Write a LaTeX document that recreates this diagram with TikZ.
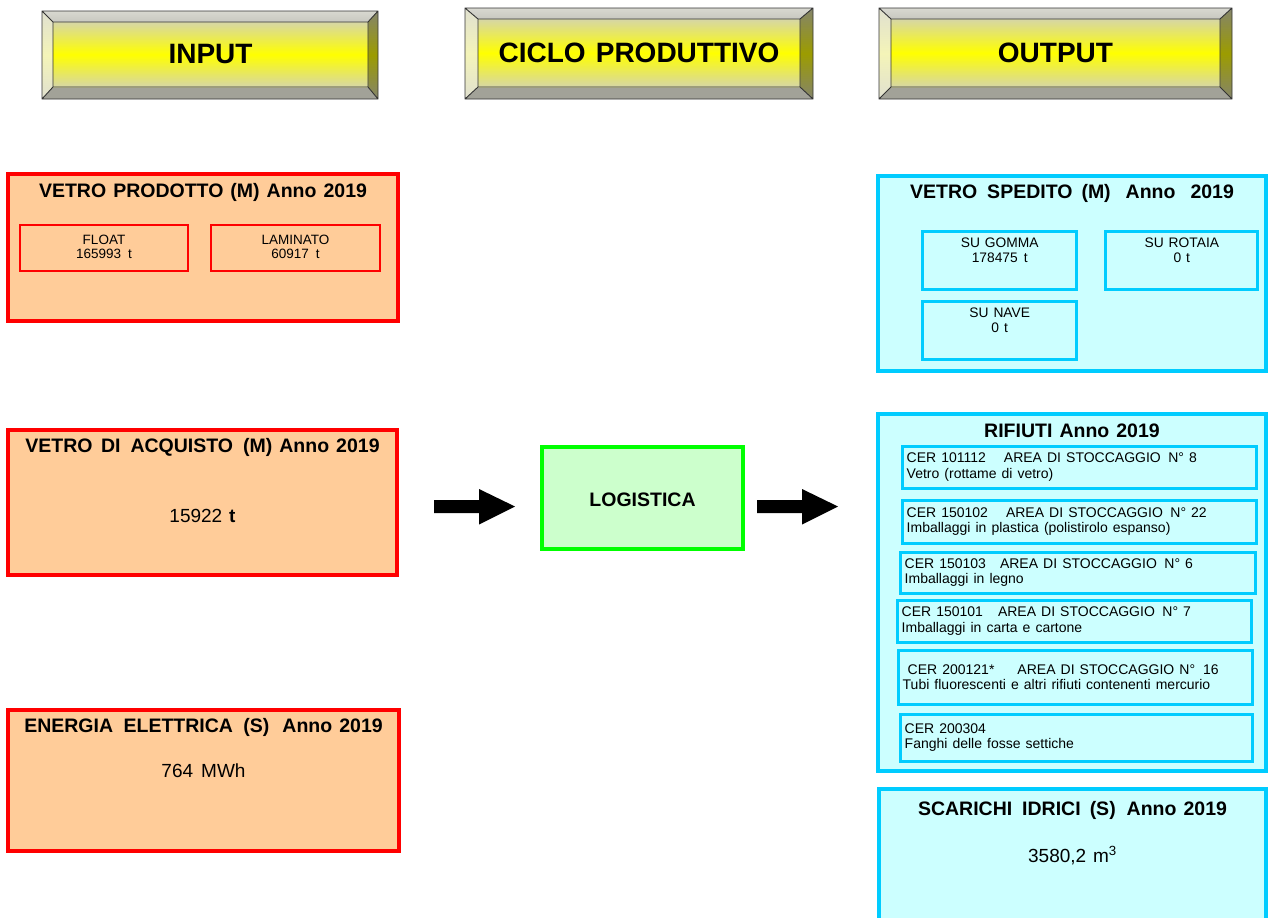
\documentclass[tikz,border=0pt]{standalone}
\usepackage{fontspec}
\setmainfont{Liberation Sans}[WordSpace=1.3]
\usetikzlibrary{calc}

\definecolor{peach}{HTML}{FFCC99}
\definecolor{inred}{HTML}{FF0000}
\definecolor{outcyan}{HTML}{00CCFF}
\definecolor{outfill}{HTML}{CCFFFF}
\definecolor{loggreen}{HTML}{00FF00}
\definecolor{logfill}{HTML}{CCFFCC}
\definecolor{bevtopA}{HTML}{D8D8D0}
\definecolor{bevtopB}{HTML}{C8C8C0}
\definecolor{bevbot}{HTML}{A2A298}
\definecolor{bevL1}{HTML}{E0E0D0}
\definecolor{bevL2}{HTML}{F4F4B8}
\definecolor{bevR1}{HTML}{84846C}
\definecolor{bevR2}{HTML}{9C9C00}
\definecolor{faceA}{HTML}{D6D6A6}

\newcommand\pxfont[2]{\fontsize{#1}{#2}\selectfont}

% bevelled header button: #1 = prefix of its four corner coordinates, #2 = caption
\newcommand\headbtn[2]{%
  \shade[top color=bevtopA, bottom color=bevtopB]
    (#1o1) -- (#1o1 -| #1o2) -- (#1i1 -| #1i2) -- (#1i1) -- cycle;
  \shade[top color=bevR1, bottom color=bevR1, middle color=bevR2]
    (#1o1 -| #1o2) -- (#1o2) -- (#1i2) -- (#1i1 -| #1i2) -- cycle;
  \fill[bevbot] (#1o2) -- (#1o2 -| #1o1) -- (#1i2 -| #1i1) -- (#1i2) -- cycle;
  \shade[top color=bevL1, bottom color=bevL1, middle color=bevL2]
    (#1o2 -| #1o1) -- (#1o1) -- (#1i1) -- (#1i2 -| #1i1) -- cycle;
  \shade[top color=faceA, bottom color=faceA, middle color=yellow]
    (#1i1) rectangle (#1i2);
  \draw[btnedge] (#1o1) rectangle (#1o2) (#1i1) rectangle (#1i2)
    (#1o1) -- (#1i1) (#1o2) -- (#1i2)
    (#1o1 -| #1o2) -- (#1i1 -| #1i2) (#1o2 -| #1o1) -- (#1i2 -| #1i1);
  \node[headtext] (#1lab) at ($(#1i1)!0.5!(#1i2)$) {#2};
}

\begin{document}
\begin{tikzpicture}[x=1pt, y=-1pt,
  btnedge/.style={draw=black!80, line width=0.9pt},
  headtext/.style={font=\bfseries\pxfont{28}{30}, inner sep=0, anchor=center},
  inbox/.style={draw=inred, line width=4pt, fill=peach, inner sep=0},
  insub/.style={draw=inred, line width=1.3pt, inner sep=0},
  outbox/.style={draw=outcyan, line width=4pt, fill=outfill, inner sep=0},
  outsub/.style={draw=outcyan, line width=3pt, inner sep=0},
  logbox/.style={draw=loggreen, line width=4pt, fill=logfill, inner sep=0},
  boxtitle/.style={anchor=base, font=\bfseries\pxfont{19.5}{21}, inner sep=0},
  boxvalue/.style={anchor=base, font=\pxfont{19}{21}, inner sep=0},
  subtext/.style={anchor=north, align=center, font=\pxfont{13.8}{15.5}, inner sep=0},
  certext/.style={anchor=west, align=left, font=\pxfont{14}{15.5}, inner sep=0},
  blockarrow/.style={fill=black}
]
\useasboundingbox (0,0) rectangle (1270,918);

% ---------- header buttons ----------
\coordinate (ino1) at (42,11);   \coordinate (ino2) at (378,99);
\coordinate (ini1) at (53,22);   \coordinate (ini2) at (368,87);
\headbtn{in}{INPUT}

\coordinate (cpo1) at (465,8);   \coordinate (cpo2) at (813,99);
\coordinate (cpi1) at (478,19);  \coordinate (cpi2) at (800,87);
\headbtn{cp}{CICLO PRODUTTIVO}

\coordinate (ouo1) at (879,8);   \coordinate (ouo2) at (1232,99);
\coordinate (oui1) at (891,19);  \coordinate (oui2) at (1220,87);
\headbtn{ou}{OUTPUT}

% ---------- input column ----------
\node[inbox, minimum width=390pt, minimum height=147pt] (prod) at (203,247.5) {};
\node[boxtitle] (prodT) at (203,197) {VETRO PRODOTTO (M) Anno 2019};
\node[insub, minimum width=168pt, minimum height=46pt] (float) at (104,248) {};
\node[subtext, font=\pxfont{13.5}{14}] (floatT) at ($(float.north)+(0,11)$) {FLOAT\\165993\hspace{7pt}t};
\node[insub, minimum width=169pt, minimum height=46pt] (lamin) at (295.5,248) {};
\node[subtext, font=\pxfont{13.5}{14}] (laminT) at ($(lamin.north)+(0,11)$) {LAMINATO\\60917\hspace{7pt}t};

\node[inbox, minimum width=389pt, minimum height=145pt] (acq) at (202.5,502.5) {};
\node[boxtitle] (acqT) at (202.5,452) {VETRO\hspace{8.5pt}DI\hspace{10pt}ACQUISTO\hspace{10pt}(M) Anno 2019};
\node[boxvalue] (acqV) at (202.5,522) {15922 \textbf{t}};

\node[inbox, minimum width=391pt, minimum height=141pt] (ener) at (203.5,780.5) {};
\node[boxtitle] (enerT) at (203.5,732) {ENERGIA\hspace{10.5pt}ELETTRICA\hspace{10.5pt}(S)\hspace{13pt}Anno 2019};
\node[boxvalue] (enerV) at (203.5,777) {764\hspace{8pt}MWh};

% ---------- production cycle ----------
\node[logbox, minimum width=201pt, minimum height=102pt] (logi) at (642.5,498) {};
\node[boxtitle] (logiT) at (642.5,506) {LOGISTICA};

\coordinate (arrA) at (434,506.5);
\fill[blockarrow] (arrA) -- ++(0,-6.5) -- ++(45,0) -- ++(0,-11) -- ++(36,17.5)
  -- ++(-36,18) -- ++(0,-11.5) -- ++(-45,0) -- cycle;
\coordinate (arrB) at (757,506.5);
\fill[blockarrow] (arrB) -- ++(0,-6.5) -- ++(45,0) -- ++(0,-11) -- ++(36,17.5)
  -- ++(-36,18) -- ++(0,-11.5) -- ++(-45,0) -- cycle;

% ---------- output column ----------
\node[outbox, minimum width=388pt, minimum height=195pt] (sped) at (1072,273.5) {};
\node[boxtitle] (spedT) at (1072,198) {VETRO\hspace{10pt}SPEDITO\hspace{9pt}(M)\hspace{15pt}Anno\hspace{15pt}2019};
\node[outsub, minimum width=153.5pt, minimum height=57.5pt] (gomma) at (999.7,260.3) {};
\node[subtext] (gommaT) at ($(gomma.north)+(0,7.5)$) {SU GOMMA\\178475\hspace{6pt}t};
\node[outsub, minimum width=152pt, minimum height=57.5pt] (rotaia) at (1181.8,260.3) {};
\node[subtext] (rotaiaT) at ($(rotaia.north)+(0,7.5)$) {SU ROTAIA\\0 t};
\node[outsub, minimum width=153.5pt, minimum height=57.7pt] (nave) at (999.7,330.3) {};
\node[subtext] (naveT) at ($(nave.north)+(0,7.5)$) {SU NAVE\\0 t};

\node[outbox, minimum width=388pt, minimum height=357pt] (rif) at (1072,592.5) {};
\node[boxtitle] (rifT) at (1072,437) {RIFIUTI Anno 2019};

\node[outsub, minimum width=354pt, minimum height=42pt] (c1) at (1079,467) {};
\node[certext] (c1T) at ($(c1.west)+(6,0)$)
  {CER 101112\hspace{18pt}AREA DI STOCCAGGIO\hspace{7.5pt}N° 8\\Vetro (rottame di vetro)};
\node[outsub, minimum width=354pt, minimum height=43pt] (c2) at (1079,521.5) {};
\node[certext] (c2T) at ($(c2.west)+(6,0)$)
  {CER 150102\hspace{18pt}AREA DI STOCCAGGIO\hspace{7.5pt}N° 22\\Imballaggi in plastica (polistirolo espanso)};
\node[outsub, minimum width=355pt, minimum height=41pt] (c3) at (1077.5,572.5) {};
\node[certext] (c3T) at ($(c3.west)+(6,0)$)
  {CER 150103\hspace{14pt}AREA DI STOCCAGGIO\hspace{7.5pt}N° 6\\Imballaggi in legno};
\node[outsub, minimum width=354pt, minimum height=42pt] (c4) at (1074,621) {};
\node[certext] (c4T) at ($(c4.west)+(6,0)$)
  {CER 150101\hspace{15pt}AREA DI STOCCAGGIO\hspace{7.5pt}N° 7\\Imballaggi in carta e cartone};
\node[outsub, minimum width=354pt, minimum height=54pt] (c5) at (1075,677) {};
\node[certext] (c5T) at ($(c5.west)+(6,0)$)
  {\hspace{5pt}CER 200121*\hspace{23pt}AREA DI STOCCAGGIO N°\hspace{8pt}16\\Tubi fluorescenti e altri rifiuti contenenti mercurio};
\node[outsub, minimum width=352pt, minimum height=47pt] (c6) at (1076,737.5) {};
\node[certext] (c6T) at ($(c6.west)+(6,0)$)
  {CER 200304\\Fanghi delle fosse settiche};

\begin{scope}
  \clip (0,0) rectangle (1270,918);
  \node[outbox, minimum width=387pt, minimum height=151pt] (sca) at (1072.5,864.5) {};
\end{scope}
\node[boxtitle] (scaT) at (1072.5,815) {SCARICHI\hspace{10pt}IDRICI\hspace{9pt}(S)\hspace{11pt}Anno 2019};
\node[boxvalue] (scaV) at (1072.5,862) {3580,2 m\textsuperscript{3}};
\end{tikzpicture}
\end{document}
